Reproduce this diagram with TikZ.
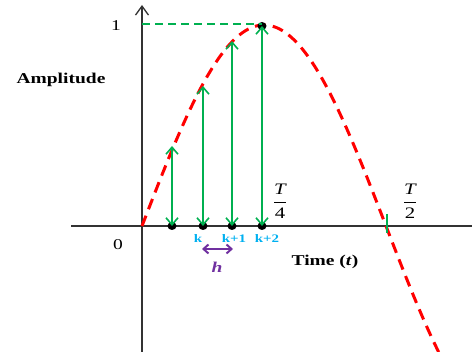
\documentclass[tikz,border=0pt]{standalone}
\usepackage{fontspec}
\setmainfont{Liberation Serif}
\newfontfamily\widefont[FakeStretch=1.3]{Liberation Serif}
\usetikzlibrary{arrows.meta}
\definecolor{cgreen}{RGB}{0,176,80}
\definecolor{cred}{RGB}{255,0,0}
\definecolor{ccyan}{RGB}{0,176,240}
\definecolor{cpurple}{RGB}{112,48,160}
\definecolor{caxis}{RGB}{50,50,50}
\tikzset{
  axisline/.style={caxis, line width=1.3pt},
  curveline/.style={cred, line width=3pt, dash pattern=on 11pt off 7pt},
  samplearrow/.style={cgreen, line width=1.6pt, {Straight Barb[length=7pt,width=12pt]}-{Straight Barb[length=7pt,width=12pt]}},
  dotnode/.style={ellipse, fill=black, inner sep=0pt, minimum width=9pt, minimum height=8pt},
  klabel/.style={ccyan, font=\widefont\fontsize{11.5}{12}\selectfont\bfseries},
  biglabel/.style={font=\widefont\fontsize{15}{17}\selectfont\bfseries},
  numlabel/.style={font=\widefont\fontsize{15}{17}\selectfont},
  fraclabel/.style={font=\widefont\fontsize{16}{18}\selectfont},
}
\usetikzlibrary{shapes.geometric}
\begin{document}
\begin{tikzpicture}[x=1pt,y=-1pt]
\useasboundingbox (0,0) rectangle (472,352);
% axes
\coordinate (xl) at (71,226);
\coordinate (xr) at (472,226);
\coordinate (yb) at (142,352);
\coordinate (yt) at (142,5);
\draw[axisline] (xl) -- (xr);
\draw[axisline, -{Straight Barb[length=9pt,width=13pt]}] (yb) -- (yt);
% curve
\begin{scope}
\clip (0,0) rectangle (472,352);
\draw[curveline] plot[domain=142:450, samples=120] (\x, {226-201*sin((\x-142)/244*180)});
\end{scope}
% peak dashed line
\coordinate (ypk) at (142,24);
\node[dotnode] (d4) at (262,26) {};
\coordinate (c4) at (262,24);
\draw[cgreen, line width=2.8pt, dash pattern=on 8pt off 5pt] (ypk) -- (c4);
% sample dots
\node[dotnode] (d1) at (172,226) {};
\node[dotnode] (d2) at (203,226) {};
\node[dotnode] (d3) at (232,226) {};
\node[dotnode] (d0) at (262,226) {};
\coordinate (c1) at (172,146);
\coordinate (c2) at (203,86);
\coordinate (c3) at (232,41);
\draw[samplearrow] (c1) -- (d1.center);
\draw[samplearrow] (c2) -- (d2.center);
\draw[samplearrow] (c3) -- (d3.center);
\draw[samplearrow] (d4.center) -- (d0.center);
% T/2 tick
\coordinate (tk1) at (387,214);
\coordinate (tk2) at (387,233);
\draw[cgreen, line width=1.5pt] (tk1) -- (tk2);
% labels
\node[numlabel] (one) at (116,26) {1};
\node[numlabel] (zero) at (118,245) {0};
\node[biglabel] (amp) at (61,80) {Amplitude};
\node[biglabel] (time) at (325,262) {Time (\textit{t})};
\node[fraclabel] (t4) at (280,201) {$\displaystyle\frac{\mbox{\itshape T}}{\mbox{4}}$};
\node[fraclabel] (t2) at (410,201) {$\displaystyle\frac{\mbox{\itshape T}}{\mbox{2}}$};
\node[klabel] (k0) at (198,239) {k};
\node[klabel] (k1) at (234,239) {k+1};
\node[klabel] (k2) at (267,239) {k+2};
% h arrow
\coordinate (h1) at (202,249);
\coordinate (h2) at (233,249);
\draw[cpurple, line width=2pt, {Straight Barb[length=5pt,width=9pt]}-{Straight Barb[length=5pt,width=9pt]}] (h1) -- (h2);
\node[cpurple, font=\widefont\fontsize{15}{17}\selectfont\bfseries\itshape] (h) at (217,267) {h};
\end{tikzpicture}
\end{document}
